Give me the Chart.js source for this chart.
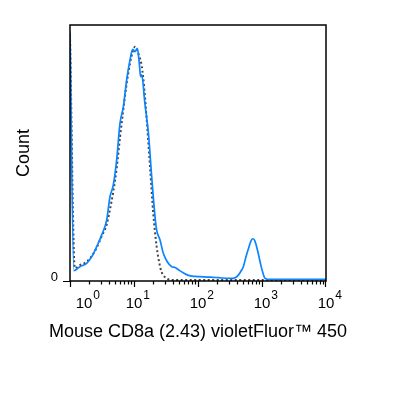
<!DOCTYPE html>
<html>
<head>
<meta charset="utf-8">
<script src="https://cdn.jsdelivr.net/npm/chart.js@4"></script>
<style>
  body { margin: 0; background: #fff; }
</style>
</head>
<body>
<canvas id="grafica" width="415" height="402"></canvas>
<script>
// CD8a stained sample (blue line)
const muestraX = [1, 1.15, 1.43, 1.82, 2.19, 2.61, 3.13, 3.74, 4.22, 4.75, 5.36, 6.04, 6.81, 7.67, 8.66, 9.53,
    10.4, 11.3, 12.1, 12.7, 13.2, 14.8, 16.8, 18.9, 21.3, 22.6, 25.5, 28.7, 33.1, 38.8, 43.7, 50.1, 58.9,
    70.8, 89.1, 107, 158, 208, 316, 380, 427, 468, 511, 562, 617, 676, 724, 776, 851, 933, 1023, 1122,
    1334, 3162, 10000];
const muestraY = [97, 4.0, 5.6, 6.9, 9.5, 13.4, 18, 23.8, 33, 37.5, 47.3, 61.6, 68, 78.5, 86.3, 90.5,
    89.6, 90.9, 85, 79.8, 80.5, 69.4, 57.7, 40.7, 25.1, 19.9, 16, 10.8, 7.5, 5.6, 5.3, 4.3, 3.2,
    2.2, 1.8, 1.7, 1.5, 1.3, 1.0, 1.3, 2.3, 3.8, 5.6, 9.5, 12.8, 15.8, 16.5, 15.6, 12, 7.5, 3.5, 1.0,
    0.6, 0.6, 0.6];

// isotype control (dotted line)
const controlX = [1, 1.19, 1.43, 1.82, 2.19, 2.61, 3.13, 3.74, 4.22, 4.75, 5.36, 6.04, 6.81, 7.67, 8.66, 9.55,
    10.4, 11.2, 12.0, 13.2, 14.5, 15.8, 17.8, 20.0, 22.6, 25.1, 26.9, 32.4, 40.7, 100, 1000, 10000];
const controlY = [96, 5.0, 6.2, 7.5, 9.8, 13, 17.5, 22, 28, 35, 44, 56, 67, 77, 85, 89.5,
    91.5, 90, 88, 84, 75, 63, 44.6, 26.4, 13.4, 6.5, 3.6, 1.0, 0.4, 0.4, 0.4, 0.4];

const exponentes = ['0', '1', '2', '3', '4'];
const tituloX = 'Mouse CD8a (2.43) violetFluor\u2122 450';
const tituloY = 'Count';
const etiquetaY = '0';

const fuente = '"Liberation Sans", Arial, sans-serif';

function aPuntos(xs, ys) {
    return xs.map(function (x, i) {
        return { x: x, y: ys[i] };
    });
}

const marco = {
    id: 'marco',
    afterDraw(chart) {
        const ctx = chart.ctx;
        const a = chart.chartArea;
        const escalaX = chart.scales.x;
        ctx.save();
        ctx.strokeStyle = '#000';
        ctx.lineWidth = 1.5;
        ctx.strokeRect(a.left, a.top, a.right - a.left, a.bottom - a.top);

        // ticks del eje x (decadas y menores)
        ctx.lineWidth = 1.2;
        ctx.beginPath();
        for (let d = 0; d < 4; d++) {
            for (let m = 1; m < 10; m++) {
                const px = Math.round(escalaX.getPixelForValue(m * Math.pow(10, d))) + 0.5;
                ctx.moveTo(px, a.bottom);
                ctx.lineTo(px, a.bottom + (m === 1 ? 6 : 3.5));
            }
        }
        const pxFin = Math.round(escalaX.getPixelForValue(10000)) - 0.5;
        ctx.moveTo(pxFin, a.bottom);
        ctx.lineTo(pxFin, a.bottom + 6);
        // tick del cero en y
        ctx.moveTo(a.left - 7, a.bottom + 0.5);
        ctx.lineTo(a.left, a.bottom + 0.5);
        ctx.stroke();

        // etiquetas 10^n
        ctx.fillStyle = '#000';
        ctx.textBaseline = 'alphabetic';
        exponentes.forEach(function (e, i) {
            let px = escalaX.getPixelForValue(Math.pow(10, i));
            if (i === 0) px += 14;
            ctx.font = '15px ' + fuente;
            ctx.textAlign = 'center';
            ctx.fillText('10', px, a.bottom + 27);
            const w = ctx.measureText('10').width;
            ctx.font = '12px ' + fuente;
            ctx.textAlign = 'left';
            ctx.fillText(e, px + w / 2 + 1, a.bottom + 18);
        });

        ctx.font = '13px ' + fuente;
        ctx.textAlign = 'right';
        ctx.fillText(etiquetaY, a.left - 12, a.bottom);

        ctx.font = '18px ' + fuente;
        ctx.textAlign = 'center';
        ctx.fillText(tituloX, 198, a.bottom + 56);

        ctx.translate(29, 153);
        ctx.rotate(-Math.PI / 2);
        ctx.fillText(tituloY, 0, 0);
        ctx.restore();
    }
};

new Chart(document.getElementById('grafica').getContext('2d'), {
    type: 'line',
    data: {
        datasets: [{
            label: 'CD8a',
            data: aPuntos(muestraX, muestraY),
            borderColor: '#0a84ff',
            borderWidth: 1.7,
            pointRadius: 0,
            cubicInterpolationMode: 'monotone',
            fill: false
        }, {
            label: 'Control',
            data: aPuntos(controlX, controlY),
            borderColor: '#444444',
            borderWidth: 2,
            borderDash: [2, 2.5],
            pointRadius: 0,
            cubicInterpolationMode: 'monotone',
            fill: false
        }]
    },
    options: {
        responsive: false,
        animation: false,
        layout: {
            padding: { left: 70, right: 89, top: 25, bottom: 121 }
        },
        plugins: {
            legend: { display: false },
            tooltip: { enabled: false }
        },
        scales: {
            x: { type: 'logarithmic', min: 1, max: 10000, display: false },
            y: { type: 'linear', min: 0, max: 100, display: false }
        }
    },
    plugins: [marco]
});
</script>
</body>
</html>
